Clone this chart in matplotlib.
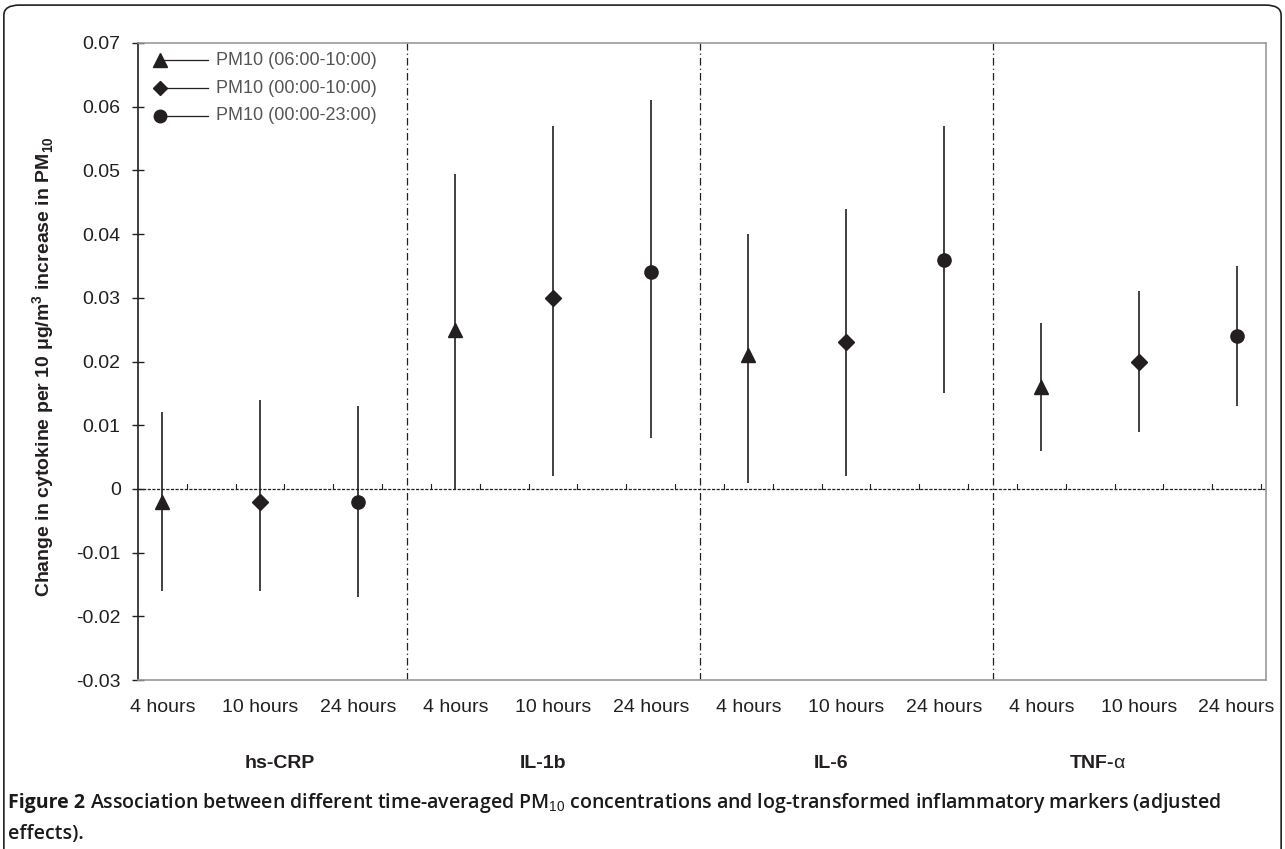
import matplotlib
matplotlib.use("Agg")
import matplotlib.pyplot as plt
import matplotlib.patches as patches
import matplotlib.transforms as mtransforms

plt.rcParams['font.family'] = ['Liberation Sans', 'DejaVu Sans']
plt.rcParams['mathtext.fontset'] = 'custom'
plt.rcParams['mathtext.rm'] = 'Liberation Sans'
plt.rcParams['mathtext.bf'] = 'Liberation Sans:bold'

# --- data ---
markers_names = ['hs-CRP', 'IL-1b', 'IL-6', r'TNF-$\mathrm{α}$']
windows = ['4 hours', '10 hours', '24 hours']
series_labels = ['PM10 (06:00-10:00)', 'PM10 (00:00-10:00)', 'PM10 (00:00-23:00)']

est_4h = [-0.002, 0.025, 0.021, 0.016]
lo_4h = [-0.016, 0.000, 0.001, 0.006]
hi_4h = [0.012, 0.0495, 0.040, 0.026]

est_10h = [-0.002, 0.030, 0.023, 0.020]
lo_10h = [-0.016, 0.002, 0.002, 0.009]
hi_10h = [0.014, 0.057, 0.044, 0.031]

est_24h = [-0.002, 0.034, 0.036, 0.024]
lo_24h = [-0.017, 0.008, 0.015, 0.013]
hi_24h = [0.013, 0.061, 0.057, 0.035]

yticks = [-0.03, -0.02, -0.01, 0, 0.01, 0.02, 0.03, 0.04, 0.05, 0.06, 0.07]
ytick_labels = ['-0.03', '-0.02', '-0.01', '0', '0.01', '0.02', '0.03', '0.04', '0.05', '0.06', '0.07']

series = [(est_4h, lo_4h, hi_4h), (est_10h, lo_10h, hi_10h), (est_24h, lo_24h, hi_24h)]
marker_styles = ['^', 'D', 'o']
marker_sizes = [10, 8, 9.5]
ink = '#231f20'

fig = plt.figure(figsize=(12.85, 8.49), dpi=100)
ax = fig.add_axes([0.1074, 0.199, 0.8778, 0.7504])

n_groups = len(markers_names)
n_win = len(windows)

for w, (est, lo, hi) in enumerate(series):
    xs = [g * n_win + w for g in range(n_groups)]
    ax.vlines(xs, lo, hi, color=ink, linewidth=1.2, zorder=3)
    ax.plot(xs, est, linestyle='none', marker=marker_styles[w], markersize=marker_sizes[w],
            color=ink, zorder=4)

# zero line with small marks
ax.axhline(0, color=ink, linewidth=0.9, linestyle=(0, (2.5, 1.2)), zorder=2)
xmin, xmax = -0.25, 11.3
k = 1
while xmin + 0.5 * k < xmax - 0.01:
    ax.plot([xmin + 0.5 * k] * 2, [0, 0.0008], color=ink, linewidth=0.8, zorder=2)
    k += 1

# group dividers
for g in range(1, n_groups):
    ax.axvline(g * n_win - 0.5, color=ink, linewidth=0.9, linestyle=(0, (6, 2.5, 1, 2.5)), zorder=2)

ax.set_xlim(xmin, xmax)
ax.set_ylim(-0.03, 0.07)
ax.set_yticks(yticks)
ax.set_yticklabels(ytick_labels)
ax.set_xticks(range(n_groups * n_win))
ax.set_xticklabels(windows * n_groups)
ax.tick_params(axis='y', direction='inout', length=9, width=1, labelsize=14, pad=8, colors=ink)
ax.tick_params(axis='x', length=0, labelsize=14, pad=14, colors=ink)

for side in ['top', 'right', 'bottom']:
    ax.spines[side].set_color('#9a9a9a')
    ax.spines[side].set_linewidth(1.2)
ax.spines['left'].set_color(ink)
ax.spines['left'].set_linewidth(1.2)

# legend drawn by hand: marker at left end of a short line
leg_y = [0.973, 0.929, 0.886]
for w in range(n_win):
    ax.plot([0.0195, 0.062], [leg_y[w]] * 2, transform=ax.transAxes, color=ink, linewidth=0.9)
    ax.plot([0.0195], [leg_y[w]], transform=ax.transAxes, marker=marker_styles[w],
            markersize=marker_sizes[w] - 0.5, color=ink, linestyle='none')
    ax.text(0.069, leg_y[w], series_labels[w], transform=ax.transAxes, fontsize=13,
            color='#555555', va='center', ha='left')

# group labels below the tick labels
group_x = [1.2, 3.9, 6.85, 9.58]
lab_trans = mtransforms.blended_transform_factory(ax.transData, fig.transFigure)
for g in range(n_groups):
    ax.text(group_x[g], 0.101, markers_names[g], transform=lab_trans,
            fontsize=14, fontweight='bold', ha='center', va='center', color=ink)

fig.text(0.034, 0.568, r'Change in cytokine per 10 μg/m$^\mathbf{3}$ increase in PM$_\mathbf{10}$',
         rotation=90, fontsize=14, fontweight='bold', ha='center', va='center', color=ink)

# caption
renderer = fig.canvas.get_renderer()
t1 = fig.text(0.006, 0.054, 'Figure 2', fontsize=14, fontweight='bold', family='Open Sans',
              color='#1a1a1a', va='center', ha='left')
bb = t1.get_window_extent(renderer=renderer)
x2 = (bb.x1 + 5) / fig.bbox.width
fig.text(x2, 0.054, r'Association between different time-averaged PM$_{10}$ concentrations and '
         r'log-transformed inflammatory markers (adjusted', fontsize=14, fontweight='semibold',
         family='Open Sans', color='#1a1a1a', va='center', ha='left')
fig.text(0.006, 0.018, 'effects).', fontsize=14, fontweight='semibold', family='Open Sans',
         color='#1a1a1a', va='center', ha='left')

# outer rounded frame
frame = patches.FancyBboxPatch((0.003, -0.05), 0.994, 1.044,
                               boxstyle='round,pad=0,rounding_size=0.012',
                               transform=fig.transFigure, facecolor='none',
                               edgecolor=ink, linewidth=1.2)
fig.patches.append(frame)

fig.savefig('out.png', dpi=100)
